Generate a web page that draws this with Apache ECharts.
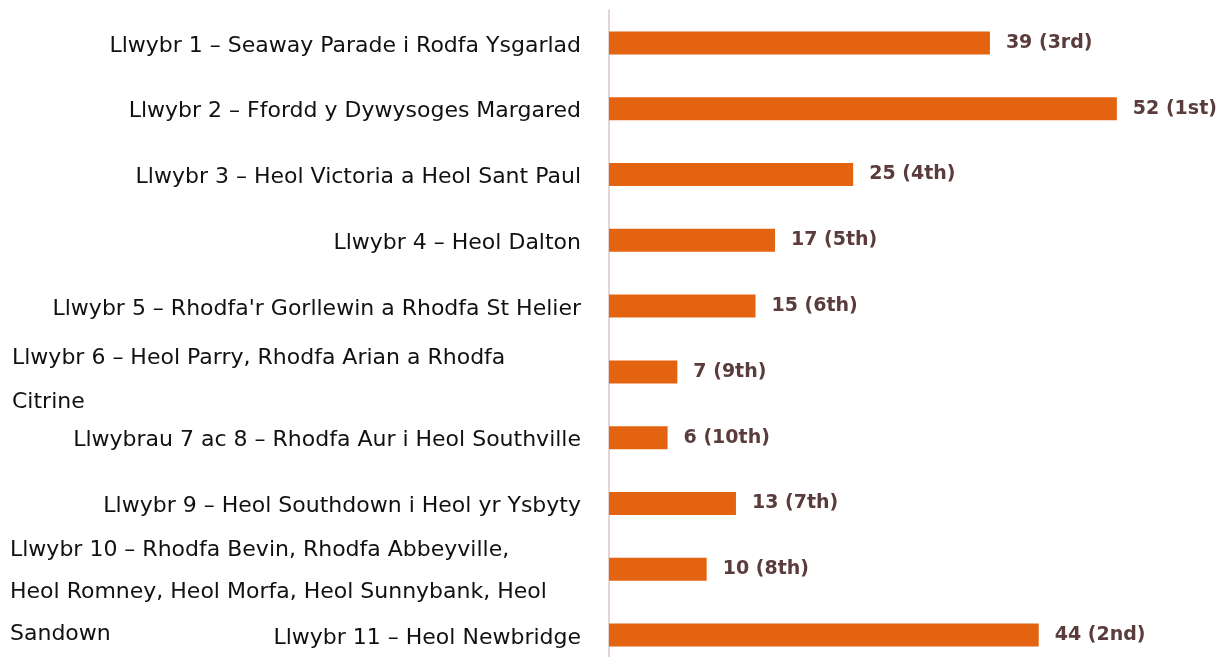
<!DOCTYPE html>
<html>
<head>
<meta charset="utf-8">
<script src="https://cdn.jsdelivr.net/npm/echarts@6/dist/echarts.min.js"></script>
<style>
  html, body { margin: 0; padding: 0; background: #fff; }
  #chart { width: 1219px; height: 657px; }
</style>
</head>
<body>
<div id="chart"></div>
<script>
const routes = [
  'Llwybr 1 – Seaway Parade i Rodfa Ysgarlad',
  'Llwybr 2 – Ffordd y Dywysoges Margared',
  'Llwybr 3 – Heol Victoria a Heol Sant Paul',
  'Llwybr 4 – Heol Dalton',
  "Llwybr 5 – Rhodfa'r Gorllewin a Rhodfa St Helier",
  'Llwybr 6 – Heol Parry, Rhodfa Arian a Rhodfa\nCitrine',
  'Llwybrau 7 ac 8 – Rhodfa Aur i Heol Southville',
  'Llwybr 9 – Heol Southdown i Heol yr Ysbyty',
  'Llwybr 10 – Rhodfa Bevin, Rhodfa Abbeyville,\nHeol Romney, Heol Morfa, Heol Sunnybank, Heol\nSandown',
  'Llwybr 11 – Heol Newbridge'
]
const votes = [39, 52, 25, 17, 15, 7, 6, 13, 10, 44]
const ranks = ['3rd', '1st', '4th', '5th', '6th', '9th', '10th', '7th', '8th', '2nd']

const chart = echarts.init(document.getElementById('chart'))

const labelFont = 'DejaVu Sans'

const option = {
  backgroundColor: '#fff',
  animation: false,
  grid: {
    left: 609,
    right: 24,
    top: 10,
    height: 658,
    containLabel: false,
    outerBoundsMode: 'none'
  },
  xAxis: {
    type: 'value',
    min: 0,
    max: 60,
    show: false
  },
  yAxis: {
    type: 'category',
    inverse: true,
    data: routes,
    axisLine: { show: true, lineStyle: { color: '#dcc8c8', width: 1.5 } },
    axisTick: { show: false },
    axisLabel: {
      interval: 0,
      hideOverlap: false,
      margin: 28,
      color: '#111',
      fontFamily: labelFont,
      fontSize: 22,
      align: 'right',
      padding: [6, 0, 0, 0],
      formatter: function (val, idx) {
        // wrapped names sit left-aligned in a wide box, like the original
        if (val.indexOf('\n') >= 0) {
          return '{w' + idx + '|' + val + '}'
        }
        return val
      },
      rich: {
        w5: { width: 569, align: 'left', lineHeight: 44, fontFamily: labelFont, fontSize: 22, color: '#111', padding: [10, 0, 0, 0] },
        w8: { width: 571, align: 'left', lineHeight: 42, fontFamily: labelFont, fontSize: 22, color: '#111', padding: [40, 0, 0, 0] }
      }
    }
  },
  series: [{
    type: 'bar',
    data: votes,
    barWidth: 23,
    itemStyle: { color: '#e46310' },
    label: {
      show: true,
      position: 'right',
      distance: 16,
      color: '#5a3c3c',
      fontFamily: 'DejaVu Sans',
      fontWeight: 'bold',
      fontSize: 19,
      padding: [6, 0, 0, 0],
      formatter: function (p) {
        return p.value + ' (' + ranks[p.dataIndex] + ')'
      }
    }
  }]
}

chart.setOption(option)
</script>
</body>
</html>
